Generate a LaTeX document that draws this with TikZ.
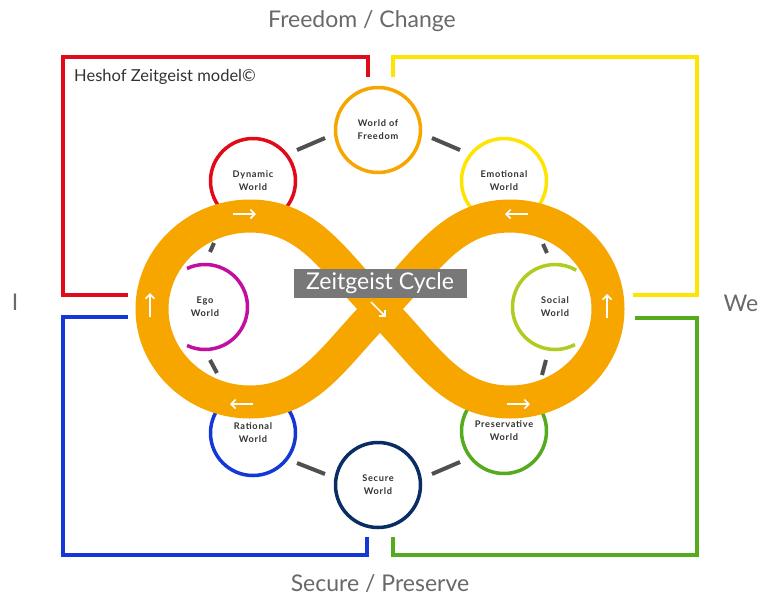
\documentclass[tikz,border=0pt]{standalone}
\usepackage{fontspec}
\setmainfont{Lato}
\newfontfamily\labfont[LetterSpace=8]{Lato}
\usetikzlibrary{arrows.meta,calc}
\definecolor{cred}{RGB}{225,10,25}
\definecolor{cyellow}{RGB}{255,228,0}
\definecolor{cblue}{RGB}{20,55,215}
\definecolor{cgreen}{RGB}{85,170,30}
\definecolor{corange}{RGB}{247,166,0}
\definecolor{cnavy}{RGB}{10,45,100}
\definecolor{cmag}{RGB}{195,15,160}
\definecolor{clime}{RGB}{175,205,30}
\definecolor{cdash}{RGB}{80,80,80}
\definecolor{ctext}{RGB}{50,50,50}
\definecolor{chead}{RGB}{105,105,105}
\definecolor{cbox}{RGB}{120,120,120}
\tikzset{
  frame/.style={line width=4pt, line join=miter},
  worldlabel/.style={align=center, inner sep=0pt, text=ctext,
    font=\labfont\bfseries\fontsize{9.2}{12.8}\selectfont},
  world/.style={worldlabel, circle, draw, line width=3.5pt, minimum size=85pt},
  ring/.style={line width=3.5pt},
  linkmark/.style={cdash, line width=4pt},
  band/.style={corange, line width=33pt, line join=round},
  flow/.style={white, line width=1.6pt, -{Straight Barb[length=4.5pt,width=9pt]}},
  heading/.style={text=chead, font=\fontsize{23}{26}\selectfont, inner sep=0pt}
}
\begin{document}
\begin{tikzpicture}[x=1pt,y=-1pt]
\useasboundingbox (0,0) rectangle (760,598);
\fill[white] (0,0) rectangle (760,598);

% headings
\node[heading] (top) at (362,21) {Freedom / Change};
\node[heading] (bottom) at (380,584) {Secure / Preserve};
\node[heading] (ileft) at (15,302) {I};
\node[heading] (we) at (741,303) {We};
\node[anchor=west, inner sep=0pt, text=ctext, font=\fontsize{16.5}{18}\selectfont] (title) at (74,77) {Heshof Zeitgeist model©};

% frames
\draw[frame, cred] (128,295) -- (63,295) -- (63,57) -- (368,57) -- (368,77);
\draw[frame, cyellow] (393,77) -- (393,57) -- (697,57) -- (697,295) -- (633,295);
\draw[frame, cblue] (128,317) -- (63,317) -- (63,555) -- (367,555) -- (367,537);
\draw[frame, cgreen] (635,318) -- (697,318) -- (697,555) -- (393,555) -- (393,537);

% worlds
\node[world, draw=corange] (free) at (378,130) {World of\\Freedom};
\node[world, draw=cred] (dyn) at (253,181) {Dynamic\\World};
\node[world, draw=cyellow] (emo) at (504,181) {Emotional\\World};
\node[world, draw=cblue] (rat) at (253,433) {Rational\\World};
\node[world, draw=cgreen] (pres) at (504,431) {Preservative\\World};
\node[world, draw=cnavy] (sec) at (378,485) {Secure\\World};
\node[worldlabel] (ego) at (205,307) {Ego\\World};
\node[worldlabel] (soc) at (555,307) {Social\\World};
\draw[ring, cmag] (ego.center) ++(-115:42.5) arc(-115:115:42.5);
\draw[ring, clime] (soc.center) ++(62:42.5) arc(62:300:42.5);

% link marks
\draw[linkmark] (297,150) -- (325,138);
\draw[linkmark] (432,138) -- (460,150);
\draw[linkmark] (214,243) -- (210,252);
\draw[linkmark] (210,360) -- (217,373);
\draw[linkmark] (297,463) -- (325,474);
\draw[linkmark] (432,474) -- (460,462);
\draw[linkmark] (543,244) -- (547,253);
\draw[linkmark] (546,360) -- (542,375);

% infinity band
\coordinate (cross) at (380,309);
\draw[band] (cross)
  .. controls (335,264) and (310,216) .. (250,216)
  .. controls (196,216) and (152,258) .. (152,309)
  .. controls (152,360) and (196,402) .. (250,402)
  .. controls (310,402) and (335,354) .. (cross)
  .. controls (425,264) and (450,216) .. (510,216)
  .. controls (564,216) and (608,258) .. (608,309)
  .. controls (608,360) and (564,402) .. (510,402)
  .. controls (450,402) and (425,354) .. (cross) -- cycle;

% flow arrows
\draw[flow] (233,214) -- (256,214);
\draw[flow] (150,317) -- (150,293);
\draw[flow] (253,404) -- (230,404);
\draw[flow] (528,214) -- (505,214);
\draw[flow] (607,318) -- (607,294);
\draw[flow] (507,404) -- (530,404);

% label
\node[fill=cbox, text=white, minimum width=173pt, minimum height=29pt, inner sep=0pt,
  font=\fontsize{23}{26}\selectfont] (zc) at (380,283.5) {Zeitgeist Cycle};
\draw[flow] (371,302) -- (386,317);
\end{tikzpicture}
\end{document}
